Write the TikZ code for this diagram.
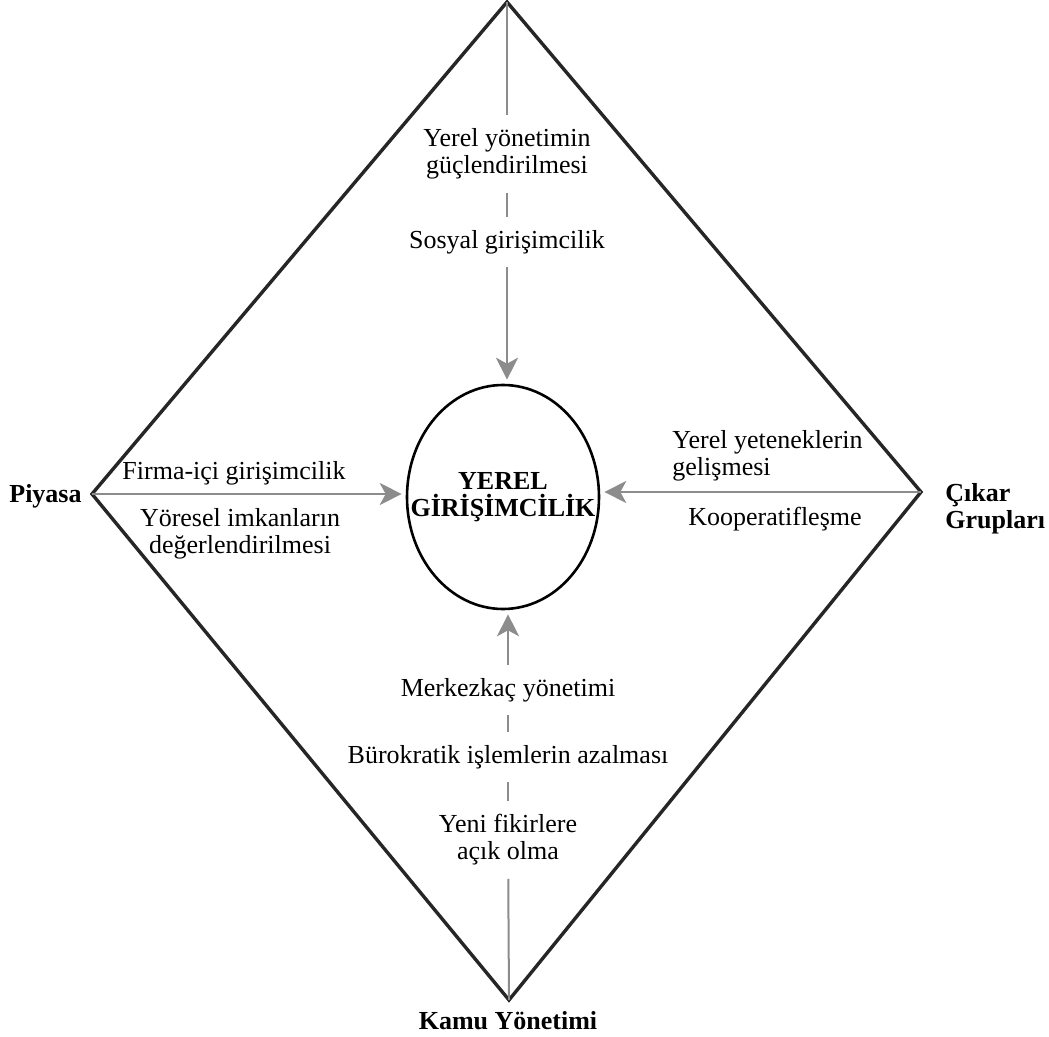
\documentclass[tikz,border=0pt]{standalone}
\usepackage{fontspec}
\setmainfont{Liberation Serif}
\usetikzlibrary{arrows.meta,shapes.geometric}
\tikzset{
  diaedge/.style = {black!85, line width=1.7pt, line join=miter},
  flowln/.style  = {black!45, line width=1pt},
  flowarr/.style = {flowln, shorten >=2pt, -{Stealth[length=11pt,width=11pt,inset=3pt]}},
  lbl/.style     = {font=\fontsize{13}{13.5}\selectfont, align=center, inner sep=1pt},
  gaplbl/.style  = {lbl, inner ysep=6.5pt},
  polelbl/.style = {font=\fontsize{13}{13.5}\selectfont\bfseries, align=left, inner sep=1pt}
}
\begin{document}
\begin{tikzpicture}[x=0.5pt,y=-0.5pt]
  \useasboundingbox (0,0) rectangle (1049,1037);
  % corners of the diamond
  \coordinate (T) at (507,2);
  \coordinate (L) at (92,494);
  \coordinate (R) at (921,492);
  \coordinate (B) at (509,1000);
  \draw[diaedge] (T) -- (R) -- (B) -- (L) -- cycle;
  % centre
  \node[ellipse, draw, line width=1.3pt, minimum width=96pt, minimum height=112pt,
        font=\fontsize{13}{13.5}\selectfont\bfseries, align=center,
        inner xsep=-16pt, inner ysep=0pt]
        (C) at (503,497) {YEREL\\GİRİŞİMCİLİK};
  % poles
  \node[polelbl, anchor=east] (piy) at (84,496) {Piyasa};
  \node[polelbl, anchor=west] (cik) at (943,509) {Çıkar\\Grupları};
  \node[polelbl] (kamu) at (508,1021) {Kamu Yönetimi};
  % from above
  \node[gaplbl] (t1) at (507,154) {Yerel yönetimin\\güçlendirilmesi};
  \node[gaplbl] (t2) at (507,242) {Sosyal girişimcilik};
  \draw[flowln] (T) -- (t1);
  \draw[flowln] (t1) -- (t2);
  \draw[flowarr] (t2) -- (t2 |- C.north);
  % from below
  \node[gaplbl] (b1) at (508,690) {Merkezkaç yönetimi};
  \node[gaplbl] (b2) at (508,757) {Bürokratik işlemlerin azalması};
  \node[gaplbl] (b3) at (508,840) {Yeni fikirlere\\açık olma};
  \draw[flowln] (B) -- (b3);
  \draw[flowln] (b3) -- (b2);
  \draw[flowln] (b2) -- (b1);
  \draw[flowarr] (b1) -- (b1 |- C.south);
  % from the left
  \draw[flowarr] (L) -- (L -| C.west);
  \node[lbl, anchor=south] (l1) at (234,488) {Firma-içi girişimcilik};
  \node[lbl, anchor=north] (l2) at (240,506) {Yöresel imkanların\\değerlendirilmesi};
  % from the right
  \draw[flowarr] (R) -- (R -| C.east);
  \node[lbl, anchor=south west, align=left] (r1) at (670,484) {Yerel yeteneklerin\\gelişmesi};
  \node[lbl, anchor=north] (r2) at (775,505) {Kooperatifleşme};
\end{tikzpicture}
\end{document}
